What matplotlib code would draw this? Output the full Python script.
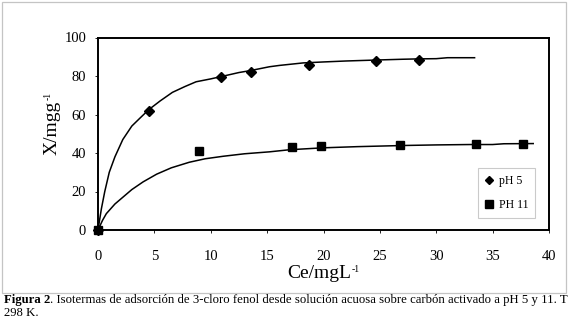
import matplotlib
matplotlib.use("Agg")
import matplotlib.pyplot as plt
from matplotlib.patches import Rectangle

plt.rcParams['font.family'] = ['Liberation Serif', 'DejaVu Serif']

# measured points
ce_ph5 = [0, 4.5, 10.9, 13.6, 18.7, 24.7, 28.5]
x_ph5 = [0, 62, 79.5, 82, 85.5, 88, 88.4]
ce_ph11 = [0, 9.0, 17.2, 19.8, 26.8, 33.5, 37.7]
x_ph11 = [0, 41.2, 43.3, 43.6, 44.2, 44.7, 44.7]

# fitted curves
fit5_c = [0, 0.3, 0.6, 1.0, 1.5, 2.2, 3.0, 3.7, 4.5, 5.5, 6.6, 7.7, 8.7, 10.0,
          11.0, 12.5, 13.5, 15.2, 16.1, 18.2, 20.0, 22.0, 24.7, 27.0, 28.5,
          30.0, 31.0, 33.4]
fit5_x = [0, 11, 20, 30, 38, 47, 54, 58, 62.5, 67, 71.5, 74.5, 77, 78.5,
          79.8, 81.8, 82.8, 84.8, 85.5, 86.8, 87.3, 87.8, 88.3, 88.7, 88.9,
          89.0, 89.5, 89.5]
fit11_c = [0, 0.4, 0.74, 1.5, 2.2, 3.0, 4.0, 5.2, 6.5, 8.1, 9.5, 11.1, 13.0,
           15.2, 17.0, 20.0, 23.0, 27.1, 30.0, 33.0, 35.0, 36.0, 38.6]
fit11_x = [0, 5, 8.5, 13.5, 17, 21, 25, 29, 32.3, 35.2, 37, 38.3, 39.6,
           40.6, 41.7, 42.7, 43.3, 43.9, 44.2, 44.4, 44.4, 44.8, 44.9]

xticks = [0, 5, 10, 15, 20, 25, 30, 35, 40]
yticks = [0, 20, 40, 60, 80, 100]
labels = ['pH 5', 'PH 11']

W, H = 570, 326
fig = plt.figure(figsize=(W / 100, H / 100), dpi=100)
fig.patch.set_facecolor('white')

# outer frame
fig.patches.append(Rectangle((2 / W, 1 - 293 / H), 564 / W, 291 / H,
                             transform=fig.transFigure, fill=False,
                             edgecolor='#c4c4c4', linewidth=0.9))

ax = fig.add_axes([98 / W, 1 - 230 / H, (549 - 98) / W, (230 - 37.5) / H])
ax.plot(fit5_c, fit5_x, color='black', lw=1.1, zorder=2)
ax.plot(fit11_c, fit11_x, color='black', lw=1.1, zorder=2)
ax.plot(ce_ph5, x_ph5, linestyle='none', marker='D', markersize=5.2,
        color='black', label=labels[0], zorder=3, clip_on=False)
ax.plot(ce_ph11, x_ph11, linestyle='none', marker='s', markersize=6.2,
        color='black', label=labels[1], zorder=3, clip_on=False)

ax.set_xlim(0, 40)
ax.set_ylim(0, 100)
ax.set_xticks(xticks)
ax.set_yticks(yticks)
ax.tick_params(axis='x', direction='out', length=2.5, width=0.6, pad=12,
               labelsize=10.5, colors='black')
ax.tick_params(axis='y', direction='out', length=2.5, width=0.6, pad=6,
               labelsize=10.5, colors='black')
for s in ax.spines.values():
    s.set_linewidth(1.4)
    s.set_color('black')

# axis labels with small raised superscripts
ax.set_xlabel('Ce/mgL', fontsize=14)
ax.xaxis.set_label_coords(0.49, -0.182)
ax.xaxis.label.set_va('top')
ax.annotate('-1', xy=(1, 1), xycoords=ax.xaxis.label, xytext=(0.5, 0),
            textcoords='offset points', fontsize=7, ha='left', va='top')

ax.set_ylabel('X/mgg', fontsize=14)
ax.yaxis.set_label_coords(-0.082, 0.53)
ax.annotate('-1', xy=(0, 1), xycoords=ax.yaxis.label, xytext=(0, 0.5),
            textcoords='offset points', fontsize=7, ha='left', va='bottom',
            rotation=90)

leg = ax.legend(loc='lower left', bbox_to_anchor=(0.843, 0.062),
                borderaxespad=0, frameon=True, fancybox=False,
                edgecolor='#bdbdbd', fontsize=8.5, handlelength=0.7,
                handletextpad=0.45, borderpad=0.6, labelspacing=1.0,
                markerscale=0.85)
leg.get_frame().set_linewidth(0.8)

# caption
cap_fs = 9.2
t1 = fig.text(4 / W, 1 - 300 / H, 'Figura 2', fontsize=cap_fs,
              fontweight='bold', va='center', ha='left')
fig.canvas.draw()
bb = t1.get_window_extent()
fig.text(bb.x1 / W, 1 - 300 / H,
         '. Isotermas de adsorción de 3-cloro fenol desde solución acuosa '
         'sobre carbón activado a pH 5 y 11. T',
         fontsize=cap_fs, va='center', ha='left')
fig.text(4 / W, 1 - 313 / H, '298 K.', fontsize=cap_fs, va='center', ha='left')

fig.savefig('out.png', dpi=100, facecolor='white')
